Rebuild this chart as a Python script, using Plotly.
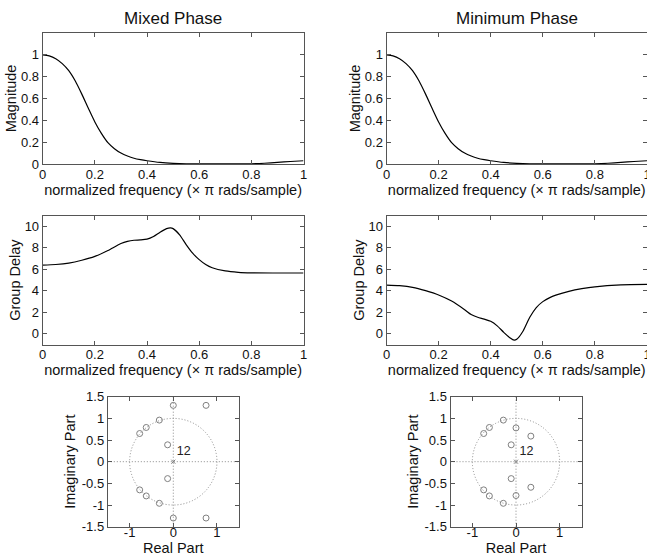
import plotly.graph_objects as go

# ---------------- data ----------------
freq_mag = [0, 0.025, 0.05, 0.075, 0.1, 0.125, 0.15, 0.175, 0.2, 0.225, 0.25, 0.275,
            0.3, 0.325, 0.35, 0.375, 0.4, 0.45, 0.5, 0.55, 0.6, 0.7, 0.8, 0.85, 0.9, 0.95, 1.0]
magnitude = [1.0, 0.99, 0.965, 0.92, 0.855, 0.76, 0.64, 0.51, 0.385, 0.28, 0.195, 0.14,
             0.10, 0.073, 0.053, 0.04, 0.03, 0.014, 0.006, 0.002, 0.001, 0.0005, 0.002,
             0.007, 0.015, 0.023, 0.03]

freq_gd = [0, 0.05, 0.1, 0.15, 0.2, 0.25, 0.3, 0.325, 0.35, 0.375, 0.4, 0.425, 0.45,
           0.475, 0.49, 0.5, 0.525, 0.55, 0.575, 0.6, 0.625, 0.65, 0.7, 0.75, 0.8, 0.9, 1.0]
gd_mixed = [6.4, 6.45, 6.58, 6.84, 7.2, 7.75, 8.4, 8.6, 8.7, 8.73, 8.8, 9.05, 9.45,
            9.78, 9.85, 9.78, 9.2, 8.3, 7.5, 6.9, 6.45, 6.15, 5.85, 5.72, 5.67, 5.66, 5.66]
gd_min = [4.54, 4.48, 4.33, 4.02, 3.62, 3.05, 2.25, 1.8, 1.55, 1.38, 1.17, 0.75, 0.15,
          -0.38, -0.58, -0.5, 0.3, 1.55, 2.45, 3.0, 3.35, 3.6, 3.95, 4.2, 4.38, 4.56, 4.6]

zeros_mixed_re = [0, 0, 0.75, 0.75, -0.32, -0.32, -0.62, -0.62, -0.77, -0.77, -0.13, -0.13]
zeros_mixed_im = [1.3, -1.3, 1.3, -1.3, 0.96, -0.96, 0.79, -0.79, 0.65, -0.65, 0.39, -0.39]
zeros_min_re = [0, 0, 0.34, 0.34, -0.29, -0.29, -0.61, -0.61, -0.74, -0.74, -0.11, -0.11]
zeros_min_im = [0.78, -0.78, 0.59, -0.59, 0.96, -0.96, 0.79, -0.79, 0.65, -0.65, 0.39, -0.39]
poles_re = [0]
poles_im = [0]
pole_multiplicity = "12"

titles = ["Mixed Phase", "Minimum Phase"]
freq_ticks = [0, 0.2, 0.4, 0.6, 0.8, 1]
freq_ticktext = ["0", "0.2", "0.4", "0.6", "0.8", "1"]
mag_ticks = [0, 0.2, 0.4, 0.6, 0.8, 1]
mag_ticktext = ["0", "0.2", "0.4", "0.6", "0.8", "1"]
gd_ticks = [0, 2, 4, 6, 8, 10]
pz_xticks = [-1, 0, 1]
pz_xticktext = ["-1", "0", "1"]
pz_yticks = [-1.5, -1, -0.5, 0, 0.5, 1, 1.5]
pz_yticktext = ["-1.5", "-1", "-0.5", "0", "0.5", "1", "1.5"]

# ---------------- layout helpers ----------------
W, H = 647, 556
FONT = "Liberation Sans, Arial, Helvetica, sans-serif"
AXC = "#555555"
TXT = "#111111"

def px_x(a, b):
    return [a / W, b / W]

def px_y(top, bottom):
    return [1 - bottom / H, 1 - top / H]

fig = go.Figure()

col_x = [px_x(42.7, 303.5), px_x(386.5, 647)]
pz_x = [px_x(107.8, 238.8), px_x(450.5, 581.5)]
row_mag = px_y(33, 164)
row_gd = px_y(215.5, 344.7)
row_pz = px_y(396.7, 526.7)

xlabel = "normalized frequency (\u00d7 \u03c0 rads/sample)"
LBL = 14.5
TICK = 13

def axis_common(**kw):
    d = dict(showline=True, linecolor=AXC, linewidth=1, mirror="ticks",
             ticks="inside", ticklen=4, tickcolor=AXC, showgrid=False,
             zeroline=False, tickfont=dict(size=TICK, color=TXT, family=FONT),
             automargin=False, ticklabeloverflow="allow")
    d.update(kw)
    return d

def ttl(text, standoff, size=LBL):
    return dict(text=text, standoff=standoff, font=dict(size=size, family=FONT, color=TXT))

layout = {}
n = 0
line_style = dict(color="black", width=1.2, shape="spline", smoothing=0.7)
for c in range(2):
    gd_vals = gd_mixed if c == 0 else gd_min
    zr = zeros_mixed_re if c == 0 else zeros_min_re
    zi = zeros_mixed_im if c == 0 else zeros_min_im
    # magnitude
    n += 1
    xa, ya = f"x{n}", f"y{n}"
    fig.add_trace(go.Scatter(x=freq_mag, y=magnitude, mode="lines", line=line_style,
                             xaxis=xa, yaxis=ya, showlegend=False))
    layout[f"xaxis{n}"] = axis_common(domain=col_x[c], anchor=ya, range=[0, 1],
                                      tickvals=freq_ticks, ticktext=freq_ticktext,
                                      ticklabelstandoff=-2, title=ttl(xlabel, 2))
    layout[f"yaxis{n}"] = axis_common(domain=row_mag, anchor=xa, range=[0, 1.2],
                                      tickvals=mag_ticks, ticktext=mag_ticktext,
                                      title=ttl("Magnitude", 0))
    # group delay
    n += 1
    xa, ya = f"x{n}", f"y{n}"
    fig.add_trace(go.Scatter(x=freq_gd, y=gd_vals, mode="lines", line=line_style,
                             xaxis=xa, yaxis=ya, showlegend=False))
    layout[f"xaxis{n}"] = axis_common(domain=col_x[c], anchor=ya, range=[0, 1],
                                      tickvals=freq_ticks, ticktext=freq_ticktext,
                                      ticklabelstandoff=-2, title=ttl(xlabel, 2))
    layout[f"yaxis{n}"] = axis_common(domain=row_gd, anchor=xa, range=[-1, 11],
                                      tickvals=gd_ticks, title=ttl("Group Delay", 0))
    # pole-zero
    n += 1
    xa, ya = f"x{n}", f"y{n}"
    dot = dict(color="#8a8a8a", width=1, dash="1px,2px")
    fig.add_shape(type="circle", xref=xa, yref=ya, x0=-1, x1=1, y0=-1, y1=1, line=dot, layer="below")
    fig.add_shape(type="line", xref=f"{xa} domain", yref=ya, x0=0, x1=1, y0=0, y1=0, line=dot, layer="below")
    fig.add_shape(type="line", xref=xa, yref=f"{ya} domain", x0=0, x1=0, y0=0, y1=1, line=dot, layer="below")
    fig.add_trace(go.Scatter(x=zr, y=zi, mode="markers",
                             marker=dict(symbol="circle-open", size=6, color="#808080",
                                         line=dict(width=1, color="#808080")),
                             xaxis=xa, yaxis=ya, showlegend=False))
    fig.add_trace(go.Scatter(x=poles_re, y=poles_im, mode="markers+text",
                             marker=dict(symbol="x-thin-open", size=4, color="#808080",
                                         line=dict(width=1, color="#808080")),
                             text=[pole_multiplicity], textposition="top right",
                             textfont=dict(size=12.5, family=FONT, color="#222"),
                             xaxis=xa, yaxis=ya, showlegend=False))
    layout[f"xaxis{n}"] = axis_common(domain=pz_x[c], anchor=ya, range=[-1.5, 1.5],
                                      tickvals=pz_xticks, ticktext=pz_xticktext,
                                      ticklabelstandoff=-6, title=ttl("Real Part", 3))
    layout[f"yaxis{n}"] = axis_common(domain=row_pz, anchor=xa, range=[-1.5, 1.5],
                                      tickvals=pz_yticks, ticktext=pz_yticktext,
                                      title=ttl("Imaginary Part", 2))

    fig.add_annotation(text=titles[c], xref="paper", yref="paper",
                       x=sum(col_x[c]) / 2, y=1 - 18 / H, xanchor="center", yanchor="middle",
                       showarrow=False, font=dict(size=17, family=FONT, color=TXT))

fig.update_layout(width=W, height=H, margin=dict(l=0, r=0, t=0, b=0),
                  paper_bgcolor="white", plot_bgcolor="white",
                  font=dict(family=FONT, color=TXT), **layout)

fig.write_html("out.html")
